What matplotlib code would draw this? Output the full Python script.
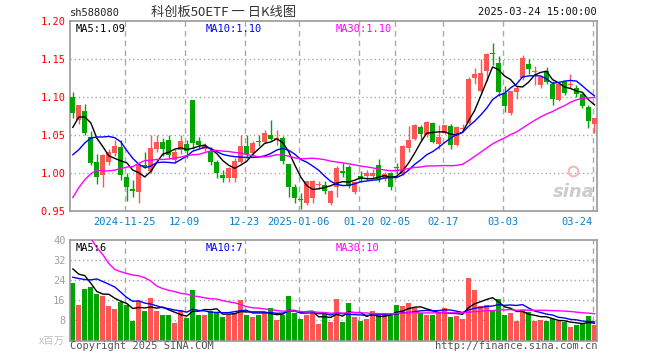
import numpy as np
import matplotlib
matplotlib.use("Agg")
import matplotlib.pyplot as plt

plt.rcParams['font.family'] = ['DejaVu Sans Mono', 'Noto Sans CJK SC']

# =========================
# 1. 数据
# =========================
# 2024-11-12 ... 2025-03-24, 88 个交易日
open_ = [1.100, 1.070, 1.082, 1.047, 1.015, 0.997, 1.015, 1.026, 1.034, 0.995,
         0.979, 0.975, 1.011, 1.003, 1.032, 1.041, 1.044, 1.017, 1.030, 1.038,
         1.0965, 1.042, 1.032, 1.029, 1.014, 0.998, 0.994, 0.994, 1.014, 1.036,
         1.026, 1.0425, 1.041, 1.050, 1.043, 1.046, 1.012, 0.981, 0.966, 0.9605,
         0.967, 0.984, 0.984, 0.9605, 0.981, 1.002, 1.0075, 0.9745, 0.9965, 0.9956,
         0.9956, 1.0105, 0.992, 1.000, 1.007, 0.999, 1.033, 1.045, 1.061, 1.050,
         1.066, 1.0385, 1.053, 1.062, 1.037, 1.058, 1.0655, 1.1245, 1.108, 1.134,
         1.158, 1.145, 1.1057, 1.0793, 1.107, 1.1245, 1.1439, 1.1335, 1.1157, 1.134,
         1.1175, 1.0956, 1.120, 1.1161, 1.1122, 1.1035, 1.0872, 1.0648]
high = [1.107, 1.089, 1.091, 1.055, 1.025, 1.025, 1.032, 1.043, 1.044, 1.000,
        0.991, 1.013, 1.027, 1.050, 1.050, 1.046, 1.050, 1.032, 1.050, 1.043,
        1.0965, 1.047, 1.040, 1.034, 1.017, 1.004, 1.008, 1.020, 1.050, 1.050,
        1.042, 1.050, 1.056, 1.070, 1.057, 1.049, 1.012, 0.986, 0.974, 0.9895,
        0.991, 0.990, 0.990, 0.978, 1.009, 1.013, 1.011, 0.990, 1.002, 1.004,
        1.005, 1.019, 1.001, 1.001, 1.013, 1.037, 1.0615, 1.064, 1.063, 1.068,
        1.067, 1.063, 1.0635, 1.064, 1.0615, 1.064, 1.126, 1.1386, 1.150, 1.158,
        1.1715, 1.154, 1.1144, 1.1085, 1.114, 1.155, 1.150, 1.141, 1.129, 1.139,
        1.121, 1.1166, 1.122, 1.1307, 1.116, 1.105, 1.089, 1.0718]
low = [1.072, 1.065, 1.050, 1.010, 0.985, 0.981, 1.011, 1.023, 0.991, 0.963,
       0.968, 0.961, 1.006, 1.000, 1.027, 1.022, 1.018, 1.013, 1.025, 1.020,
       1.031, 1.031, 1.029, 1.011, 0.994, 0.988, 0.988, 0.988, 1.013, 1.020,
       1.022, 1.035, 1.039, 1.043, 1.037, 1.012, 0.968, 0.960, 0.952, 0.958,
       0.961, 0.979, 0.973, 0.958, 0.969, 0.995, 0.980, 0.972, 0.988, 0.991,
       0.992, 0.988, 0.989, 0.977, 0.999, 0.998, 1.0275, 1.044, 1.043, 1.048,
       1.039, 1.032, 1.051, 1.031, 1.035, 1.055, 1.064, 1.1166, 1.105, 1.121,
       1.142, 1.101, 1.0806, 1.0763, 1.097, 1.123, 1.1307, 1.116, 1.112, 1.117,
       1.089, 1.095, 1.103, 1.112, 1.100, 1.085, 1.0596, 1.053]
close = [1.079, 1.089, 1.053, 1.013, 0.995, 1.024, 1.028, 1.036, 0.997, 0.982,
         0.976, 1.011, 1.008, 1.033, 1.041, 1.031, 1.024, 1.028, 1.042, 1.029,
         1.040, 1.037, 1.036, 1.015, 1.000, 0.994, 1.006, 1.016, 1.036, 1.025,
         1.040, 1.041, 1.053, 1.045, 1.046, 1.0154, 0.981, 0.967, 0.965, 0.9895,
         0.9895, 0.985, 0.976, 0.976, 1.006, 1.000, 0.9824, 0.988, 0.992, 1.000,
         1.000, 0.992, 0.999, 0.981, 1.006, 1.036, 1.044, 1.063, 1.051, 1.0675,
         1.041, 1.048, 1.063, 1.037, 1.0605, 1.059, 1.124, 1.1298, 1.131, 1.157,
         1.156, 1.106, 1.088, 1.108, 1.112, 1.1518, 1.1373, 1.1345, 1.126, 1.120,
         1.097, 1.1166, 1.1057, 1.1168, 1.1035, 1.088, 1.0683, 1.0718]
# 成交量 (百万)
volume = [23.0, 14.2, 20.5, 21.1, 18.7, 17.9, 13.8, 12.6, 15.2, 14.2,
          7.9, 15.8, 11.8, 17.0, 11.8, 10.2, 10.2, 7.0, 12.1, 9.0,
          20.1, 10.2, 10.2, 11.8, 10.9, 9.4, 10.2, 11.0, 16.0, 10.2,
          9.4, 10.2, 10.9, 13.0, 8.0, 10.2, 17.8, 10.9, 8.5, 10.2,
          10.9, 6.6, 11.0, 7.2, 16.6, 7.2, 15.0, 9.4, 7.6, 8.6,
          11.8, 10.2, 10.2, 10.2, 14.2, 13.8, 15.0, 13.1, 10.9, 10.2,
          10.2, 11.3, 13.0, 9.4, 9.8, 8.6, 24.9, 20.1, 13.8, 14.2,
          12.2, 16.6, 10.2, 11.0, 7.9, 12.1, 11.3, 7.9, 8.2, 7.6,
          8.6, 7.6, 7.4, 5.4, 6.2, 7.0, 9.8, 6.0]

# 图左侧之前的 29 个交易日 (由均线形状估计, 用于计算均线起点)
prev_close = [0.70, 0.74, 0.78, 0.85, 1.054, 1.028, 1.006, 0.937, 0.922, 0.961,
              0.876, 0.903, 1.018, 1.011, 1.031, 1.003, 0.998, 1.000, 0.969, 1.007,
              1.022, 0.965, 0.948, 0.981, 1.024, 1.0205, 1.053, 1.0515, 1.096]
prev_volume = [40.0, 50.0, 60.0, 129.7, 101.9, 118.8, 84.6, 42.2, 35.2, 25.9,
               24.8, 35.8, 56.0, 71.8, 40.2, 31.2, 22.0, 33.1, 18.0, 41.1,
               19.4, 24.7, 22.3, 14.9, 28.1, 24.7, 23.5, 36.1, 35.2]

tick_idx = [9, 19, 29, 38, 48, 54, 62, 72, 87]
tick_lab = ['2024-11-25', '12-09', '12-23', '2025-01-06', '01-20',
            '02-05', '02-17', '03-03', '03-24']

price_ticks = [0.95, 1.00, 1.05, 1.10, 1.15, 1.20]
vol_ticks = [8, 16, 24, 32, 40]


# =========================
# 2. 均线
# =========================
def ma(prev, cur, n):
    full = np.concatenate([prev, cur])
    out = np.convolve(full, np.ones(n) / n, mode='valid')
    return out[-len(cur):]


o = np.array(open_)
h = np.array(high)
l = np.array(low)
c = np.array(close)
v = np.array(volume)
x = np.arange(len(c))

ma5 = ma(prev_close, c, 5)
ma10 = ma(prev_close, c, 10)
ma30 = ma(prev_close, c, 30)
vma5 = ma(prev_volume, v, 5)
vma10 = ma(prev_volume, v, 10)
vma30 = ma(prev_volume, v, 30)

RED = '#ff5555'
GREEN = '#00a600'
GRID = '#aaaaaa'
FRAME = '#999999'

up = c >= o
col = np.where(up, RED, GREEN)

# =========================
# 3. 作图
# =========================
W, H = 660, 360
fig = plt.figure(figsize=(6.6, 3.6), dpi=100)
fig.patch.set_facecolor('white')

L0, R0 = 70.3, 597
ax = fig.add_axes([L0 / W, 1 - 211 / H, (R0 - L0) / W, (211 - 21) / H])
axv = fig.add_axes([L0 / W, 1 - 340.5 / H, (R0 - L0) / W, (340.5 - 240) / H])

xlim = (-0.42, len(c) - 0.58)
px = 0.25 / 190  # 一个像素对应的价格

for a in (ax, axv):
    a.set_xlim(*xlim)
    for s in a.spines.values():
        s.set_color(FRAME)
        s.set_linewidth(1.2)
    a.tick_params(length=0)
    a.set_xticks([])
    for ti in tick_idx:
        a.axvline(ti - 0.33, color=GRID, lw=1, dashes=(4, 3), zorder=0)

# K线
body_bot = np.minimum(o, c)
body_h = np.maximum(np.abs(c - o), px)
ax.vlines(x, l, h, colors=col, lw=1, zorder=2)
ax.bar(x, body_h, bottom=body_bot, width=0.78, color=col, linewidth=0, zorder=3)

ax.plot(x, ma5, color='black', lw=1, zorder=4)
ax.plot(x, ma10, color='#0000ff', lw=1, zorder=4)
ax.plot(x, ma30, color='#ff00ff', lw=1, zorder=4)

ax.set_ylim(0.95, 1.20)
ax.set_yticks(price_ticks)
ax.set_yticklabels(['%.2f' % t for t in price_ticks], color='red', fontsize=7.5)
for t in price_ticks[1:-1]:
    ax.axhline(t, color=GRID, lw=1, dashes=(1, 2), zorder=0)

for ti, lab in zip(tick_idx, tick_lab):
    ha = 'right' if ti == tick_idx[-1] else 'center'
    ax.text(ti - 0.33, 0.95 - 11 * px, lab, ha=ha, va='center',
            color='#0a7fc8', fontsize=7.5, clip_on=False)

ax.text(0.01, 0.985, 'MA5:%.2f' % ma5[-1], transform=ax.transAxes,
        color='black', fontsize=7.5, va='top')
ax.text(0.257, 0.985, 'MA10:%.2f' % ma10[-1], transform=ax.transAxes,
        color='#0000ff', fontsize=7.5, va='top')
ax.text(0.504, 0.985, 'MA30:%.2f' % ma30[-1], transform=ax.transAxes,
        color='#ff00ff', fontsize=7.5, va='top')

# 水印
ax.text(0.995, 0.10, 'sina', transform=ax.transAxes, ha='right', va='center',
        fontsize=13, fontweight='bold', style='italic', color='#cccccc',
        family='DejaVu Sans', zorder=1)
ax.plot([0.955], [0.21], marker='o', ms=7, mfc='none', mec='#f4b8b8', mew=1.5,
        transform=ax.transAxes, zorder=1)

# 成交量
axv.bar(x, v, width=0.78, color=col, linewidth=0, zorder=2)
axv.plot(x, vma5, color='black', lw=1, zorder=4)
axv.plot(x, vma10, color='#0000ff', lw=1, zorder=4)
axv.plot(x, vma30, color='#ff00ff', lw=1, zorder=4)
axv.set_ylim(0, 40)
axv.set_yticks(vol_ticks)
axv.set_yticklabels([str(t) for t in vol_ticks], color='#a0a0a0', fontsize=7.5)
for t in vol_ticks[:-1]:
    axv.axhline(t, color=GRID, lw=1, dashes=(1, 2), zorder=0)

axv.text(0.01, 0.97, 'MA5:%d' % vma5[-1], transform=axv.transAxes,
         color='black', fontsize=7.5, va='top', zorder=5)
axv.text(0.257, 0.97, 'MA10:%d' % vma10[-1], transform=axv.transAxes,
         color='#0000ff', fontsize=7.5, va='top', zorder=5)
axv.text(0.504, 0.97, 'MA30:%d' % vma30[-1], transform=axv.transAxes,
         color='#ff00ff', fontsize=7.5, va='top', zorder=5)


# 页面文字
def ftext(xp, yp, s, **kw):
    fig.text(xp / W, 1 - yp / H, s, **kw)


ftext(70, 13, 'sh588080', fontsize=7.5, va='center', color='#222222')
ftext(224, 12, '科创板50ETF 一 日K线图', fontsize=9.5, ha='center', va='center',
      color='#333333', family=['Noto Sans CJK SC', 'DejaVu Sans'])
ftext(597, 12, '2025-03-24 15:00:00', fontsize=7.5, ha='right', va='center',
      color='#111111')
ftext(65, 341, 'x百万', fontsize=7.5, ha='right', va='center', color='#c0c0c0',
      family=['Noto Sans CJK SC', 'DejaVu Sans'])
ftext(70, 346, 'Copyright 2025 SINA.COM', fontsize=7.5, va='center',
      color='#555555')
ftext(597, 346, 'http://finance.sina.com.cn', fontsize=7.5, ha='right',
      va='center', color='#555555')

plt.savefig('out.png', dpi=100)
